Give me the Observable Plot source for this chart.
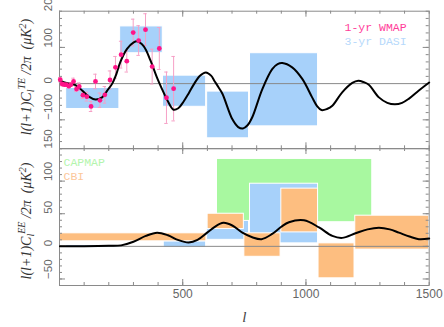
<!DOCTYPE html>
<html><head><meta charset="utf-8">
<script src="https://cdn.jsdelivr.net/npm/d3@7"></script>
<script src="https://cdn.jsdelivr.net/npm/@observablehq/plot@0.6"></script>
<style>
body{margin:0;background:#fff}
#wrap{position:relative;width:444px;height:327px;overflow:hidden}
#wrap svg{position:absolute;left:0;top:0}
</style></head><body><div id="wrap"></div>
<script>
// ---- data ----
const teTheory = [[2,8],[20,3],[40,0],[65,-4],[92,-19],[119,-36],[146,-44],[173,-38],[195,-18],[214,0],[230,25],[247,60],[274,96],[301,114],[315,117],[342,103],[369,64],[396,16],[416,-15],[437,-45],[463,-72],[482,-68],[503,-50],[524,-27],[545,-2],[570,22],[594,31],[615,22],[630,6],[645,-10],[661,-28],[701,-98],[725,-120],[744,-124],[763,-115],[782,-93],[823,-15],[863,40],[885,54],[904,57],[944,45],[985,13],[1025,-38],[1045,-62],[1063,-73],[1085,-70],[1107,-61],[1147,-24],[1188,2],[1212,8],[1235,4],[1255,-3],[1296,-38],[1330,-53],[1361,-57],[1390,-53],[1417,-42],[1458,-19],[1500,3]];
const eeTheory = [[2,0.3],[100,0.3],[200,0.8],[250,1.5],[300,7],[350,16],[396,21],[440,17],[480,10],[524,6],[560,10],[599,21],[630,30],[665,36],[701,32],[742,21],[782,14],[820,11],[863,19],[900,30],[931,37],[992,40],[1053,29],[1107,16],[1147,13],[1201,20],[1250,26],[1296,28.5],[1340,26],[1377,21],[1420,15],[1458,11],[1500,12]];
const wmapL = [3,11,20,28,38,46,57,69,80,95,111,128,146,164,184,205,227,250,273,299,321,349,376,405,434,463];
const wmapV = [11,-1,-3,-3,-7,-3,6,-15,-8,-32,-36,-63,6,-46,-31,10,45,80,62,141,119,149,47,97,-39,-14];
const wmapErr = [6,5,4,4,5,5,9,7,10,9,12,14,20,20,23,25,30,37,30,37,41,44,48,58,71,89];
const dasiTE = [[27,243,-70,-12],[246,419,84,158],[420,595,-64,22],[599,769,-151,-22],[773,1049,-118,84]];
const capmapEE = [[639,1269,37,134]];
const dasiEE = [[27,243,-2,2],[423,595,-2.4,7.6],[599,769,10,39],[773,1049,4.6,96]];
const cbiEE = [[0,596,7.7,20],[601,748,26.5,50],[750,897,-16,20],[900,1049,21.4,88.5],[1051,1197,-49,4.6],[1200,1500,-5,47]];
const xLabels = [500,1000,1500];
const teLabels = [200,100,0,-100];
const eeLabels = [-50,0,50,100,150];
const legendTop = ["1-yr WMAP","3-yr DASI"];
const legendBot = ["CAPMAP","CBI"];

// ---- helpers ----
const W = 444, H = 327, ML = 59, MR = 15.3;
const boxes = a => a.map(([l1,l2,v1,v2]) => ({l1,l2,v1,v2}));
const fmt = d => d < 0 ? "\u2212" + Math.abs(d) : String(d);
const wmap = wmapL.map((l,i) => ({l, v: wmapV[i], e: wmapErr[i]}));
const gray = "#8a8a8a";
const range = (a,b,s) => d3.range(a, b + s/2, s);
const legend = (txt, dx, dy, color) => Plot.text([txt], {frameAnchor: "top-left", dx, dy, text: d => d, textAnchor: "start", fontSize: 11.5, fontFamily: "Liberation Mono, monospace", fill: color});

function frameTicks(xMinor, xMajor, yMinor, yMajor, pw, ph) {
  const m = [];
  const mk = (vals, len, kind) => {
    if (kind === "x") {
      m.push(Plot.tickX(vals, {x: d => d, stroke: gray, insetTop: ph - len}));
      m.push(Plot.tickX(vals, {x: d => d, stroke: gray, insetBottom: ph - len}));
    } else {
      m.push(Plot.tickY(vals, {y: d => d, stroke: gray, insetRight: pw - len}));
      m.push(Plot.tickY(vals, {y: d => d, stroke: gray, insetLeft: pw - len}));
    }
  };
  mk(xMinor, 3, "x"); mk(xMajor, 6, "x");
  mk(yMinor, 3, "y"); mk(yMajor, 6, "y");
  return m;
}

const pw = W - ML - MR;
// ---- top panel (TE) ----
const tMT = 10.7, tMB = H - 148.3, tph = H - tMT - tMB;
const topPlot = Plot.plot({
  width: W, height: H, marginLeft: ML, marginRight: MR, marginTop: tMT, marginBottom: tMB,
  x: {domain: [0,1500], axis: null},
  y: {domain: [-180,200], axis: null},
  style: {background: "transparent", overflow: "visible"},
  marks: [
    Plot.rect(boxes(dasiTE), {x1: "l1", x2: "l2", y1: "v1", y2: "v2", fill: "#a7d1fa", stroke: "white", strokeWidth: 1}),
    Plot.ruleY([0], {stroke: gray}),
    ...frameTicks(range(0,1500,100), [500,1000], range(-180,200,20), [-100,0,100], pw, tph),
    Plot.frame({stroke: gray}),
    Plot.ruleX(wmap, {x: "l", y1: d => d.v - d.e, y2: d => d.v + d.e, stroke: "#f6a0c6", strokeWidth: 1}),
    Plot.ruleY(wmap, {y: d => d.v - d.e, x1: d => d.l - 7, x2: d => d.l + 7, stroke: "#f6a0c6"}),
    Plot.ruleY(wmap, {y: d => d.v + d.e, x1: d => d.l - 7, x2: d => d.l + 7, stroke: "#f6a0c6"}),
    Plot.line(teTheory, {x: d => d[0], y: d => d[1], stroke: "black", strokeWidth: 2, curve: "catmull-rom"}),
    Plot.dot(wmap, {x: "l", y: "v", r: 2.4, fill: "#ff1488", stroke: "none"}),
    Plot.text(teLabels, {y: d => d, text: fmt, frameAnchor: "left", dx: -11, rotate: -90, fontSize: 11.5, fontFamily: "Liberation Sans, sans-serif", fill: "#666"}),
    legend(legendTop[0], 285, 12, "#ff3d9a"),
    legend(legendTop[1], 285, 25.5, "#b6d9fb")
  ]
});
// ---- bottom panel (EE) ----
const bMT = 148, bMB = H - 285, bph = H - bMT - bMB;
const botPlot = Plot.plot({
  width: W, height: H, marginLeft: ML, marginRight: MR, marginTop: bMT, marginBottom: bMB,
  x: {domain: [0,1500], axis: null},
  y: {domain: [-60,150], axis: null},
  style: {background: "transparent", overflow: "visible"},
  marks: [
    Plot.rect(boxes(capmapEE), {x1: "l1", x2: "l2", y1: "v1", y2: "v2", fill: "#a8f8a0", stroke: "white", strokeWidth: 1}),
    Plot.rect(boxes(dasiEE), {x1: "l1", x2: "l2", y1: "v1", y2: "v2", fill: "#a7d1fa", stroke: "white", strokeWidth: 1}),
    Plot.rect(boxes(cbiEE), {x1: "l1", x2: "l2", y1: "v1", y2: "v2", fill: "#fdbe80", stroke: "white", strokeWidth: 1}),
    Plot.ruleY([0], {stroke: gray}),
    ...frameTicks(range(0,1500,100), [500,1000], range(-60,150,10), [-50,0,50,100,150], pw, bph),
    Plot.frame({stroke: gray}),
    Plot.line(eeTheory, {x: d => d[0], y: d => d[1], stroke: "black", strokeWidth: 2, curve: "catmull-rom"}),
    Plot.text(eeLabels, {y: d => d, text: fmt, frameAnchor: "left", dx: -11, rotate: -90, fontSize: 11.5, fontFamily: "Liberation Sans, sans-serif", fill: "#666"}),
    Plot.text(xLabels, {x: d => d, text: d => String(d), frameAnchor: "bottom", dy: 12, fontSize: 12, fontFamily: "Liberation Sans, sans-serif", fill: "#666"}),
    Plot.text(["l"], {frameAnchor: "bottom", dy: 36, text: d => d, fontSize: 15, fontStyle: "italic", fontFamily: "Liberation Serif, serif", fill: "#444"}),
    legend(legendBot[0], 4, 9, "#b4f5ad"),
    legend(legendBot[1], 4, 23.5, "#fcc89a")
  ]
});
const wrap = document.getElementById("wrap");
wrap.appendChild(topPlot);
wrap.appendChild(botPlot);

function yTitle(svg, x, y, sup) {
  const t = d3.select(svg).append("text")
    .attr("transform", `translate(${x},${y}) rotate(-90)`)
    .attr("text-anchor", "middle")
    .attr("font-family", "Liberation Serif, serif")
    .attr("font-style", "italic")
    .attr("font-size", 14)
    .attr("fill", "#333");
  t.append("tspan").text("l(l+1)C");
  t.append("tspan").attr("dy", 3).attr("font-size", 10).text("l");
  t.append("tspan").attr("dy", -9).attr("font-size", 10).text(sup);
  t.append("tspan").attr("dy", 6).text(" /2\u03c0  (\u03bcK");
  t.append("tspan").attr("dy", -5).attr("font-size", 10).text("2");
  t.append("tspan").attr("dy", 5).text(")");
}
yTitle(topPlot, 31, 77, "TE");
yTitle(botPlot, 31, 221, "EE");
</script></body></html>
